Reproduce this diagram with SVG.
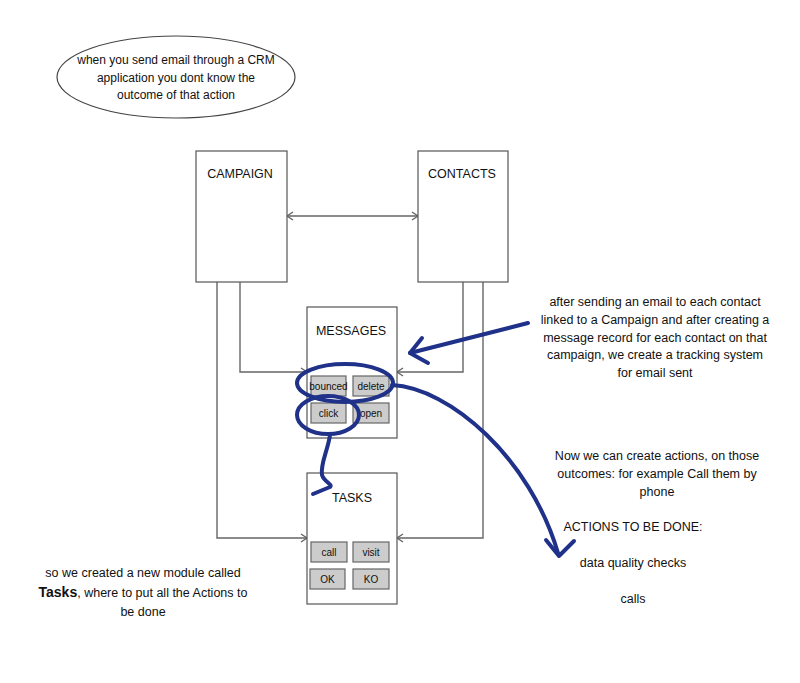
<svg xmlns="http://www.w3.org/2000/svg" width="800" height="683" viewBox="0 0 800 683">
<style>
text{font-family:"Liberation Sans",Arial,sans-serif;fill:#111;}
.t{font-size:12.5px;text-anchor:middle;}
.c{font-size:12px;text-anchor:middle;}
.b{font-size:10px;text-anchor:middle;}
.box{fill:#fff;stroke:#555;stroke-width:1.2;}
.btn{fill:#cccccc;stroke:#666;stroke-width:1.2;}
.con{fill:none;stroke:#666;stroke-width:1.4;}
.blue{fill:none;stroke:#1f3189;stroke-width:4;stroke-linecap:round;stroke-linejoin:round;}
</style>
<defs>
<marker id="ah" markerWidth="10" markerHeight="10" refX="8" refY="5" orient="auto-start-reverse" markerUnits="userSpaceOnUse">
<path d="M2,1 L8,5 L2,9" fill="none" stroke="#666" stroke-width="1.4"/>
</marker>
</defs>
<rect width="800" height="683" fill="#fff"/>
<g id="note-cloud">
<ellipse cx="176" cy="77" rx="119" ry="41" fill="#fff" stroke="#444" stroke-width="1.2"/>
<text class="c" x="176" y="64">when you send email through a CRM</text>
<text class="c" x="176" y="82">application you dont know the</text>
<text class="c" x="176" y="99">outcome of that action</text>
</g>
<g id="connectors">
<line class="con" x1="287" y1="216" x2="418" y2="216" marker-start="url(#ah)" marker-end="url(#ah)"/>
<polyline class="con" points="240,282 240,372 307,372" marker-end="url(#ah)"/>
<polyline class="con" points="463,282 463,372 397,372" marker-end="url(#ah)"/>
<polyline class="con" points="217,282 217,538 307,538" marker-end="url(#ah)"/>
<polyline class="con" points="483,282 483,538 397,538" marker-end="url(#ah)"/>
</g>
<g id="campaign">
<rect class="box" x="196" y="151" width="91" height="131"/>
<text class="t" x="240" y="178">CAMPAIGN</text>
</g>
<g id="contacts">
<rect class="box" x="418" y="151" width="90" height="131"/>
<text class="t" x="462" y="178">CONTACTS</text>
</g>
<g id="messages">
<rect class="box" x="307" y="307" width="90" height="131"/>
<text class="t" x="351" y="335">MESSAGES</text>
<rect class="btn" x="311" y="376" width="35" height="20"/>
<text class="b" x="328.5" y="390">bounced</text>
<rect class="btn" x="353" y="376" width="36" height="20"/>
<text class="b" x="371" y="390">delete</text>
<rect class="btn" x="311" y="403" width="35" height="20"/>
<text class="b" x="328.5" y="417">click</text>
<rect class="btn" x="353" y="403" width="36" height="20"/>
<text class="b" x="371" y="417">open</text>
</g>
<g id="tasks">
<rect class="box" x="307" y="473" width="90" height="131"/>
<text class="t" x="352" y="502">TASKS</text>
<rect class="btn" x="311" y="542" width="36" height="20"/>
<text class="b" x="329" y="556">call</text>
<rect class="btn" x="353" y="542" width="36" height="20"/>
<text class="b" x="371" y="556">visit</text>
<rect class="btn" x="310" y="569" width="35" height="20"/>
<text class="b" x="327.5" y="583">OK</text>
<rect class="btn" x="353" y="569" width="36" height="20"/>
<text class="b" x="371" y="583">KO</text>
</g>
<g id="highlights">
<ellipse class="blue" cx="345" cy="383" rx="48" ry="19"/>
<ellipse class="blue" cx="328" cy="415" rx="31" ry="19"/>
<path class="blue" d="M330,435 C328,450 320,464 322,475 C324,482 333,484 330,487 L313,494"/>
<path class="blue" d="M392,385 C450,388 530,458 558,553"/>
<path class="blue" d="M546,540 L559,556 L574,541"/>
<path class="blue" d="M528,323 L410,353"/>
<path class="blue" d="M422,338 L410,353 L428,363"/>
</g>
<g id="note-tracking">
<text class="t" x="655" y="306">after sending an email to each contact</text>
<text class="t" x="655" y="324">linked to a Campaign and after creating a</text>
<text class="t" x="655" y="342">message record for each contact on that</text>
<text class="t" x="655" y="359">campaign, we create a tracking system</text>
<text class="t" x="655" y="377">for email sent</text>
</g>
<g id="note-actions">
<text class="t" x="657" y="460">Now we can create actions, on those</text>
<text class="t" x="657" y="478">outcomes: for example Call them by</text>
<text class="t" x="657" y="496">phone</text>
<text class="t" x="633" y="531">ACTIONS TO BE DONE:</text>
<text class="t" x="633" y="567">data quality checks</text>
<text class="t" x="633" y="603">calls</text>
</g>
<g id="note-tasks">
<text class="t" x="143" y="577">so we created a new module called</text>
<text class="t" x="143" y="597"><tspan font-size="14" font-weight="bold">Tasks</tspan>, where to put all the Actions to</text>
<text class="t" x="143" y="616">be done</text>
</g>
</svg>
